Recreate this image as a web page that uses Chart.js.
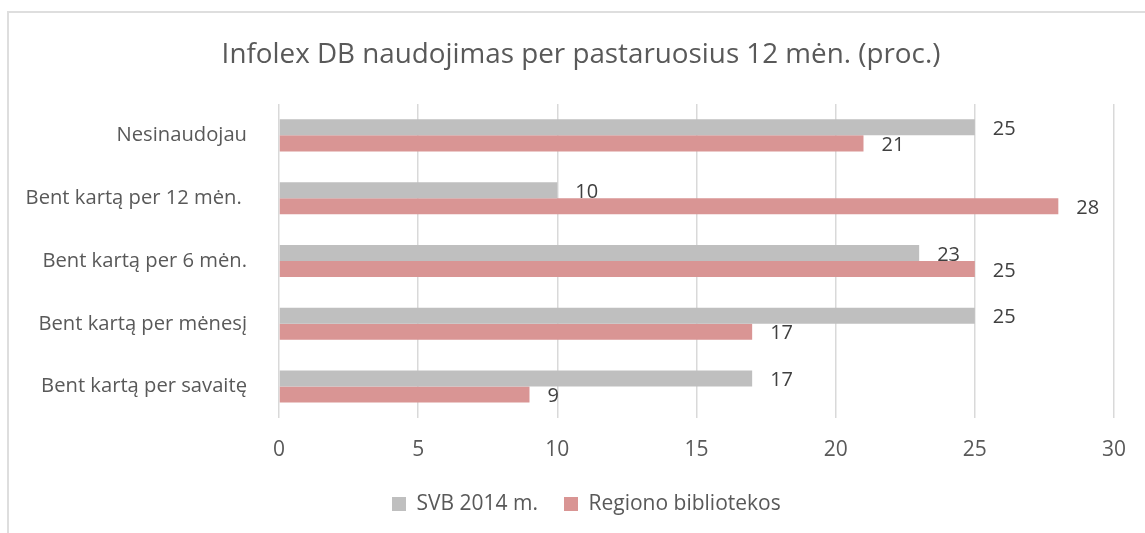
<!DOCTYPE html>
<html>
<head>
<meta charset="utf-8">
<script src="https://cdn.jsdelivr.net/npm/chart.js@4.4.1/dist/chart.umd.min.js"></script>
<style>
  html, body { margin: 0; padding: 0; background: #fff; overflow: hidden; }
  #wrap { position: relative; width: 1145px; height: 533px; }
  #frame { position: absolute; left: 7px; top: 11px; width: 2000px; height: 1000px;
           border-top: 2px solid #dedede; border-left: 2px solid #dedede; }
  #chart { position: absolute; left: 0; top: 0; }
</style>
</head>
<body>
<div id="wrap">
  <div id="frame"></div>
  <canvas id="chart" width="1145" height="533"></canvas>
</div>
<script>
    var categories = ['Nesinaudojau', 'Bent kartą per 12 mėn. ', 'Bent kartą per 6 mėn.', 'Bent kartą per mėnesį', 'Bent kartą per savaitę']
    var svb = [25, 10, 23, 25, 17]
    var regiono = [21, 28, 25, 17, 9]
    var xTicks = [0, 5, 10, 15, 20, 25, 30]

    Chart.defaults.font.family = "'Open Sans', sans-serif"
    Chart.defaults.color = '#595959'

    // value labels right of each bar, like excel
    var barLabels = {
        id: 'barLabels',
        afterDatasetsDraw: function (chart) {
            var ctx = chart.ctx
            ctx.save()
            ctx.font = "20px 'Open Sans', sans-serif"
            ctx.fillStyle = '#404040'
            ctx.textAlign = 'left'
            ctx.textBaseline = 'middle'
            chart.data.datasets.forEach(function (ds, i) {
                chart.getDatasetMeta(i).data.forEach(function (bar, j) {
                    ctx.fillText(ds.data[j], bar.x + 18, bar.y + 2)
                })
            })
            ctx.restore()
        }
    }

    // title and legend are centred on the (wider) excel frame, not the canvas
    var boxShift = {
        id: 'boxShift',
        afterLayout: function (chart) {
            var lg = chart.legend
            var w = lg.right - lg.left
            lg.left = 366
            lg.right = 366 + w
            chart.titleBlock.left = 17
            chart.titleBlock.right = 1145
        }
    }

    new Chart(document.getElementById('chart'), {
        type: 'bar',
        data: {
            labels: categories,
            datasets: [{
                label: 'SVB 2014 m.',
                data: svb,
                backgroundColor: '#bfbfbf',
                categoryPercentage: 0.51,
                barPercentage: 1
            }, {
                label: 'Regiono bibliotekos',
                data: regiono,
                backgroundColor: '#d99594',
                categoryPercentage: 0.51,
                barPercentage: 1
            }]
        },
        options: {
            indexAxis: 'y',
            responsive: false,
            animation: false,
            layout: {padding: {top: 0, right: 28, bottom: 8.5, left: 0}},
            plugins: {
                title: {
                    display: true,
                    text: 'Infolex DB naudojimas per pastaruosius 12 mėn. (proc.)',
                    font: {size: 27.8, weight: 'normal'},
                    color: '#595959',
                    padding: {top: 38, bottom: 32.6}
                },
                legend: {
                    position: 'bottom',
                    align: 'start',
                    labels: {boxWidth: 14, boxHeight: 14, padding: 26, font: {size: 21}, color: '#595959'}
                },
                tooltip: {enabled: false}
            },
            scales: {
                x: {
                    min: 0,
                    max: 30,
                    afterBuildTicks: function (scale) {
                        scale.ticks = xTicks.map(function (v) { return {value: v} })
                    },
                    afterFit: function (scale) { scale.height = 49.5 },
                    grid: {color: '#d9d9d9', lineWidth: 1.5, drawTicks: false},
                    border: {display: false},
                    ticks: {padding: 19, font: {size: 21}, color: '#595959'}
                },
                y: {
                    afterFit: function (scale) { scale.width = 279 },
                    grid: {display: false},
                    border: {display: false},
                    ticks: {padding: 24, font: {size: 20.2}, color: '#595959'}
                }
            }
        },
        plugins: [barLabels, boxShift]
    })
</script>
</body>
</html>
